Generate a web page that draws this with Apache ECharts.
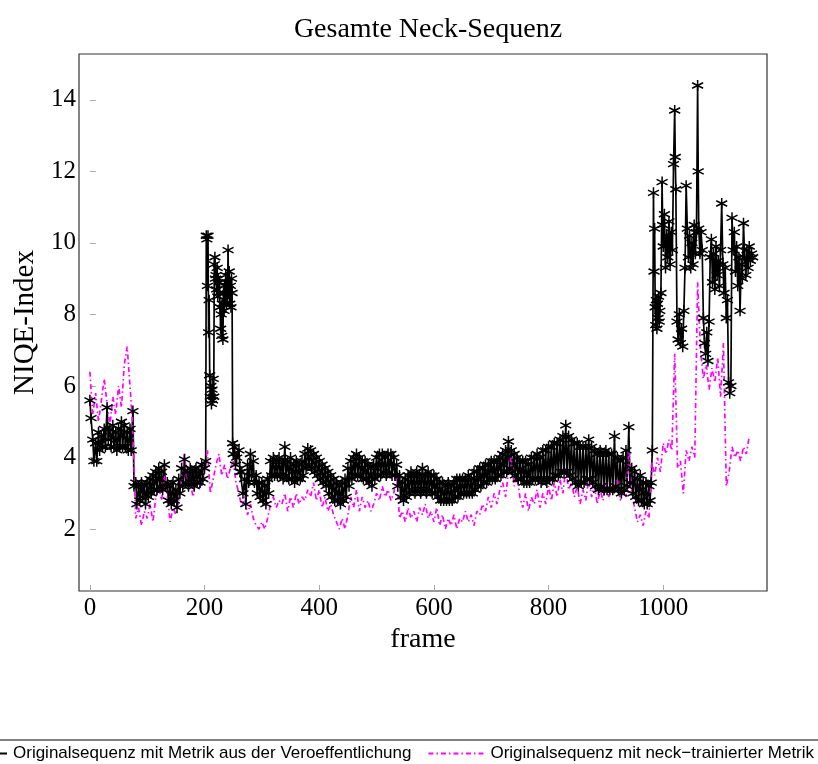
<!DOCTYPE html>
<html>
<head>
<meta charset="utf-8">
<script src="https://cdn.jsdelivr.net/npm/echarts@6/dist/echarts.min.js"></script>
<style>html,body{margin:0;padding:0;background:#fff;}#c{width:818px;height:764px;}</style>
</head>
<body>
<div id="c"></div>
<script>
const titleText = 'Gesamte Neck-Sequenz';
const xName = 'frame';
const yName = 'NIQE-Index';
const seriesNames = ['Originalsequenz mit Metrik aus der Veroeffentlichung', 'Originalsequenz mit neck\u2212trainierter Metrik'];
const xTicks = [0, 200, 400, 600, 800, 1000];
const yTicks = [2, 4, 6, 8, 10, 12, 14];

// black series (Metrik aus der Veroeffentlichung)
const blackFrames = [
  0,2,5,7,10,12,15,17,20,22,25,27,30,32,35,37,40,42,45,47,50,52,55,57,60,62,65,67,70,72,75,77,
  80,82,85,87,90,92,95,97,100,102,105,107,110,112,115,117,120,122,125,127,130,132,135,137,140,142,145,147,
  150,152,155,157,160,162,165,167,170,172,175,177,180,182,185,187,190,192,195,197,200,
  202,203,204,205,206,207,208,209,210,211,212,213,214,215,216,217,218,219,220,221,222,223,224,225,226,227,228,229,
  230,231,232,233,234,235,236,237,238,239,240,241,242,243,244,245,246,247,248,249,250,252,254,256,
  260,262,265,267,270,272,275,277,280,282,285,287,290,292,295,297,300,302,305,307,
  310,312,315,317,320,322,325,327,330,332,335,337,340,342,345,347,350,352,355,357,
  360,362,365,367,370,372,375,377,380,382,385,387,390,392,395,397,400,402,405,407,
  410,412,415,417,420,422,425,427,430,432,435,437,440,442,445,447,450,452,455,457,
  460,462,465,467,470,472,475,477,480,482,485,487,490,492,495,497,500,502,505,507,
  510,512,515,517,520,522,525,527,530,532,535,537,540,542,545,547,550,552,555,557,
  560,562,565,567,570,572,575,577,580,582,585,587,590,592,595,597,600,602,605,607,
  610,612,615,617,620,622,625,627,630,632,635,637,640,642,645,647,650,652,655,657,
  660,662,665,667,670,672,675,677,680,682,685,687,690,692,695,697,700,702,705,707,
  710,712,715,717,720,722,725,727,730,732,735,737,740,742,745,747,750,752,755,757,
  760,762,765,767,770,772,775,777,780,782,785,787,790,792,795,797,800,802,805,807,
  810,812,815,817,820,822,825,827,830,832,835,837,840,842,845,847,850,852,855,857,
  860,862,865,867,870,872,875,877,880,882,885,887,890,892,895,897,900,902,905,907,
  910,912,915,917,920,922,925,927,930,932,935,937,940,942,945,947,950,952,955,957,
  960,962,965,967,970,972,975,977,979,981,
  983,984,985,986,987,988,989,990,991,992,993,994,996,998,999,1000,1002,1004,1006,1008,1010,1012,1014,1016,1018,1020,1021,1022,
  1024,1026,1028,1030,1032,1034,1036,1038,1040,1042,1044,1046,1048,1050,1052,1054,1056,1058,1060,1061,1062,1064,1066,1068,
  1070,1072,1074,1076,1078,1080,1082,1084,1086,1088,1090,1092,1094,1096,1098,1100,1102,1104,1106,1108,1110,1112,1114,1116,1118,
  1120,1122,1124,1126,1128,1130,1132,1134,1136,1138,1140,1142,1144,1146,1148,1150,1152,1154,1156
];
const blackNiqe = [
  5.6,5.1,4.5,3.9,4.4,3.9,4.7,4.2,4.6,4.3,4.8,4.3,5.4,4.5,4.8,4.3,4.9,4.3,4.7,4.2,4.8,4.3,5.0,4.3,4.9,4.3,4.7,4.2,4.8,4.2,5.3,3.2,
  3.3,2.7,3.2,2.8,3.3,2.9,3.2,2.7,3.3,2.9,3.4,3.0,3.5,3.1,3.6,3.1,3.7,3.2,3.6,3.1,3.8,3.2,3.3,2.8,3.2,2.7,3.3,2.8,
  3.1,2.6,3.4,3.0,3.7,3.2,3.95,3.3,3.6,3.2,3.7,3.3,3.6,3.2,3.7,3.3,3.6,3.3,3.8,3.4,3.7,
  3.9,10.2,10.1,8.8,10.2,7.5,8.4,6.3,5.7,6.0,5.5,5.9,5.6,6.2,5.7,9.4,9.6,9.0,9.1,8.7,9.3,8.5,9.0,8.6,8.9,8.2,7.6,8.0,
  7.4,8.3,7.3,8.6,8.1,8.8,8.4,9.1,8.3,8.9,8.5,9.8,8.7,9.2,8.3,8.8,8.2,9.0,8.6,4.4,4.1,4.3,3.8,4.0,
  4.2,3.6,3.6,3.0,3.4,2.7,3.8,3.3,4.1,3.5,3.9,3.3,3.5,3.0,3.3,2.9,3.3,2.8,3.2,2.7,
  3.4,3.0,3.9,3.5,4.0,3.5,3.9,3.5,4.0,3.5,3.9,3.4,4.3,3.5,3.9,3.4,4.0,3.4,3.8,3.3,
  3.9,3.4,3.8,3.4,3.9,3.5,4.1,3.7,4.25,3.8,4.2,3.7,4.1,3.6,4.0,3.5,3.9,3.4,3.8,3.3,
  3.7,3.2,3.6,3.0,3.5,2.9,3.4,2.8,3.3,2.8,3.2,2.7,3.3,2.8,3.4,2.9,3.7,3.2,3.9,3.4,
  4.0,3.5,4.1,3.5,4.0,3.5,3.9,3.4,3.9,3.4,3.8,3.3,3.7,3.2,3.8,3.4,4.0,3.5,4.1,3.5,
  4.1,3.6,4.0,3.5,4.1,3.6,4.1,3.5,4.0,3.5,3.8,3.2,3.5,2.9,3.3,2.8,3.4,2.9,3.5,3.0,
  3.6,3.1,3.5,3.0,3.6,3.1,3.5,3.0,3.7,3.1,3.5,3.0,3.6,3.1,3.5,3.0,3.5,3.0,3.4,2.9,
  3.3,2.8,3.3,2.8,3.2,2.8,3.3,2.8,3.2,2.8,3.3,2.9,3.4,2.9,3.4,3.0,3.4,3.0,3.4,3.0,
  3.5,3.0,3.4,3.0,3.6,3.1,3.6,3.2,3.7,3.2,3.7,3.3,3.8,3.3,3.8,3.4,3.9,3.4,3.9,3.4,
  3.9,3.5,4.0,3.5,4.1,3.6,4.2,3.6,4.45,3.7,4.2,3.6,4.1,3.5,4.0,3.4,3.9,3.4,3.9,3.3,
  3.9,3.3,3.8,3.3,4.0,3.4,4.0,3.4,4.1,3.4,4.0,3.3,4.2,3.4,4.2,3.3,4.3,3.4,4.3,3.4,
  4.4,3.5,4.4,3.5,4.5,3.6,4.6,3.6,4.9,3.6,4.6,3.5,4.5,3.4,4.4,3.3,4.4,3.2,4.3,3.3,
  4.3,3.3,4.3,3.4,4.5,3.4,4.3,3.3,4.2,3.2,4.1,3.1,4.2,3.2,4.1,3.1,4.2,3.1,4.1,3.1,
  4.1,3.1,4.6,3.2,4.0,3.1,3.9,3.0,4.0,3.1,4.2,3.2,4.85,3.3,3.7,3.0,3.6,2.9,3.4,2.8,
  3.5,2.8,3.3,2.7,3.3,2.7,3.2,2.8,3.3,4.2,
  11.4,9.2,10.4,8.2,7.7,8.4,7.6,8.3,7.9,8.5,7.8,8.1,8.6,11.7,10.5,9.9,10.8,9.3,10.2,9.6,10.6,9.4,10.3,9.8,12.2,13.7,12.4,11.5,
  7.8,7.3,8.0,7.2,7.6,7.1,8.1,9.3,11.6,10.4,9.6,10.2,9.3,10.0,9.4,10.5,9.7,10.3,14.4,12.0,10.4,9.7,10.3,9.8,
  7.9,7.2,6.9,7.5,6.7,7.8,9.6,10.1,8.9,9.7,8.7,9.9,9.1,9.5,8.8,9.8,11.1,9.4,8.6,9.3,7.9,8.4,6.1,5.8,6.0,
  10.7,9.8,10.3,9.2,9.9,8.8,9.6,8.1,9.4,9.0,10.55,9.6,9.1,9.8,9.3,9.9,9.5,9.7,9.6
];

// magenta series (neck-trainierte Metrik), one value every 5 frames from frame 0
const pinkStep = 5;
const pinkNiqe = [
  6.4,5.2,5.8,5.0,5.6,6.2,5.5,4.9,5.7,5.2,
  6.0,5.4,6.6,7.1,6.0,4.8,2.3,2.6,2.1,2.5,
  2.3,2.7,2.2,2.9,3.2,2.8,3.5,2.9,2.2,2.6,
  2.4,2.8,3.4,4.1,3.2,3.3,2.9,3.4,3.1,3.3,
  3.7,4.2,3.0,3.4,3.8,4.1,3.5,3.8,3.4,3.7,
  3.9,3.3,3.0,2.6,2.9,2.4,2.7,2.3,2.1,2.0,
  2.2,2.0,2.3,2.7,2.9,2.6,2.8,2.7,3.0,2.5,
  2.9,2.6,3.0,2.7,2.9,2.8,3.1,2.9,3.3,2.8,
  3.1,2.6,2.9,2.5,2.7,2.4,2.2,2.0,2.3,2.0,
  2.4,2.9,2.6,3.1,2.5,2.9,2.6,2.8,2.5,2.7,
  3.0,2.8,3.2,2.9,3.1,2.8,3.0,3.5,2.3,2.5,
  2.2,2.6,2.3,2.5,2.2,2.6,2.4,2.7,2.3,2.5,
  2.2,2.6,2.1,2.4,2.0,2.3,2.1,2.4,2.0,2.3,
  2.2,2.5,2.2,2.4,2.1,2.5,2.4,2.7,2.5,2.9,
  2.6,3.0,2.7,3.1,3.3,2.9,3.6,4.0,3.2,3.5,
  2.9,2.6,3.0,2.5,2.9,2.7,3.1,2.6,3.0,2.7,
  3.2,2.8,3.3,2.9,3.4,3.0,3.7,3.1,3.3,2.9,
  3.2,2.7,3.1,2.8,3.4,2.9,3.2,2.7,3.1,2.8,
  3.3,2.9,3.2,3.0,3.4,2.8,3.1,2.9,4.2,3.0,
  2.6,2.2,2.4,2.1,2.5,2.3,3.9,3.5,4.0,3.6,
  4.4,4.1,4.5,4.2,6.9,3.7,3.9,3.0,4.2,3.9,
  4.3,4.0,8.9,7.0,6.2,6.6,5.9,6.5,6.1,6.8,
  5.7,7.2,3.2,3.6,4.3,4.0,4.2,3.9,4.3,4.1,
  4.6
];

const blackData = blackFrames.map((f, i) => [f, blackNiqe[i]]);
const pinkData = pinkNiqe.map((v, i) => [i * pinkStep, v]);

const asterisk = 'path://M0,-5L0,5M-4.33,-2.5L4.33,2.5M-4.33,2.5L4.33,-2.5';
const serif = '"Liberation Serif", "Times New Roman", serif';

const chart = echarts.init(document.getElementById('c'), null, {renderer: 'canvas'});
chart.setOption({
  animation: false,
  backgroundColor: '#fff',
  title: {
    text: titleText, left: 423, textAlign: 'center', top: 11,
    textStyle: {fontFamily: serif, fontSize: 28, fontWeight: 'normal', color: '#000'}
  },
  grid: {left: 79, right: 51, top: 54, bottom: 173, show: true, borderColor: '#333', borderWidth: 1.2, backgroundColor: 'transparent'},
  xAxis: {
    type: 'value', min: -19, max: 1181,
    name: xName, nameLocation: 'middle', nameGap: 35,
    nameTextStyle: {fontFamily: serif, fontSize: 28, color: '#000'},
    axisLine: {show: false},
    splitLine: {show: false},
    axisTick: {show: true, inside: true, length: 6, lineStyle: {color: '#aaa', width: 1}, customValues: xTicks},
    axisLabel: {customValues: xTicks, formatter: v => String(v), fontFamily: serif, fontSize: 25, color: '#000', margin: 5}
  },
  yAxis: {
    type: 'value', min: 0.27, max: 15.28,
    name: yName, nameLocation: 'middle', nameGap: 37,
    nameTextStyle: {fontFamily: serif, fontSize: 29, color: '#000'},
    axisLine: {show: false},
    splitLine: {show: false},
    axisTick: {show: true, inside: true, length: 6, lineStyle: {color: '#aaa', width: 1}, customValues: yTicks},
    axisLabel: {customValues: yTicks, formatter: v => String(v), fontFamily: serif, fontSize: 25, color: '#000', margin: 3}
  },
  legend: {
    left: -58, top: 740, width: 1000, orient: 'horizontal',
    padding: [5, 8], borderColor: '#000', borderWidth: 1, borderRadius: 0,
    itemWidth: 56, itemHeight: 12, itemGap: 16,
    textStyle: {fontFamily: '"Liberation Sans", Arial, sans-serif', fontSize: 17, color: '#000', padding: [0, 0, 0, 1]},
    data: [
      {name: seriesNames[0]},
      {name: seriesNames[1], itemStyle: {color: 'rgba(0,0,0,0)', borderColor: 'rgba(0,0,0,0)', borderWidth: 0}}
    ]
  },
  series: [
    {
      name: seriesNames[0], type: 'line', data: blackData,
      showAllSymbol: true, symbol: asterisk, symbolSize: 11,
      itemStyle: {color: '#000', borderColor: '#000', borderWidth: 1.5},
      lineStyle: {color: '#000', width: 1.7},
      emphasis: {disabled: true}
    },
    {
      name: seriesNames[1], type: 'line', data: pinkData,
      showSymbol: false, symbol: 'none',
      itemStyle: {color: '#ff00ff'},
      lineStyle: {color: '#ff00ff', width: 1.7, type: [5, 3, 1.5, 3]},
      emphasis: {disabled: true}
    }
  ]
});
</script>
</body>
</html>
